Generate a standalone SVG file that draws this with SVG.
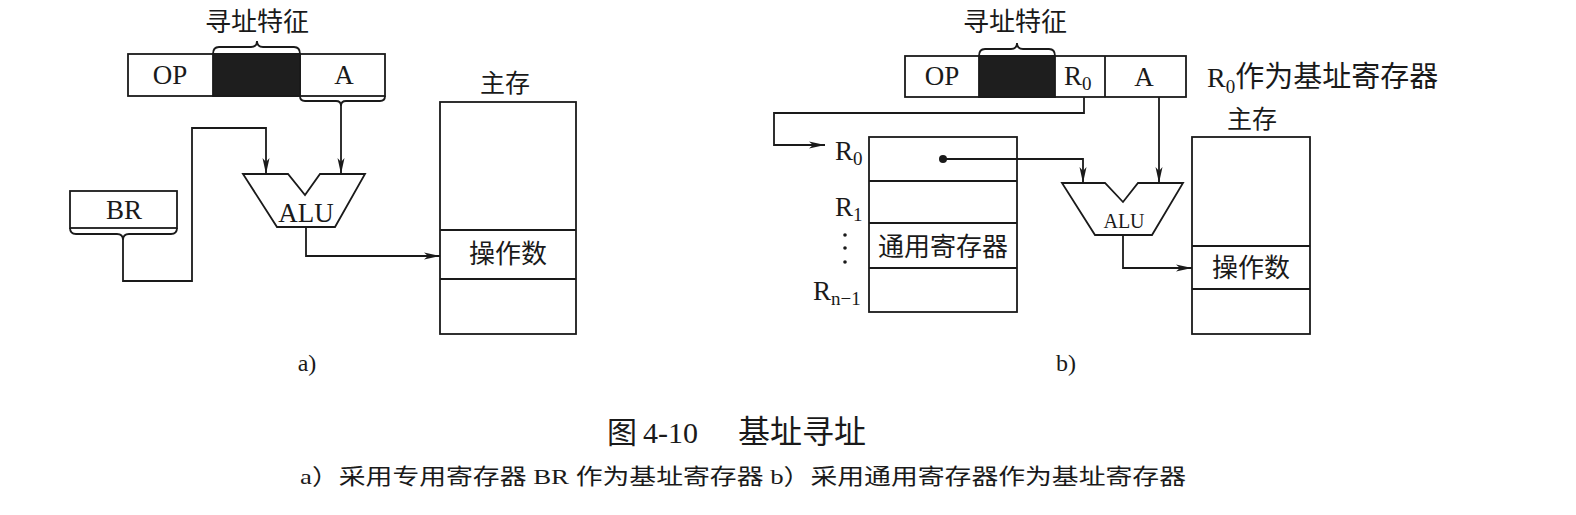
<svg xmlns="http://www.w3.org/2000/svg" width="1576" height="515" viewBox="0 0 1576 515">
<style>
.ln{fill:none;stroke:#1a1a1a;stroke-width:1.8}
.bx{fill:#fff;stroke:#1a1a1a;stroke-width:1.8}
.blk{fill:#1e1e1e;stroke:#1a1a1a;stroke-width:1.8}
.t{font-family:"Liberation Serif","Noto Sans CJK SC",serif;fill:#1a1a1a}
.c{text-anchor:middle}
.cj{font-family:"Noto Sans CJK SC","Liberation Serif",sans-serif;fill:#1a1a1a}
</style>
<defs>
<marker id="ar" markerUnits="userSpaceOnUse" markerWidth="18" markerHeight="10" refX="16" refY="4" orient="auto">
<path d="M0,0.5 L16,4 L0,7.5 L4,4 z" fill="#1a1a1a"/>
</marker>
</defs>
<rect width="1576" height="515" fill="#fff"/>

<!-- ===== (a) ===== -->
<g id="a-instr">
<rect class="bx" x="128" y="54" width="257" height="42"/>
<rect class="blk" x="213" y="54" width="87" height="42"/>
<line class="ln" x1="300" y1="54" x2="300" y2="96"/>
<text class="t c" x="170" y="84" font-size="27">OP</text>
<text class="t c" x="344" y="84" font-size="27">A</text>
</g>
<g id="a-feature">
<path class="ln" d="M213,54 Q213,47 219,47 L251,47 Q257,47 257,41 Q257,47 263,47 L294,47 Q300,47 300,54"/>
<text class="cj c" x="257" y="31" font-size="26">寻址特征</text>
</g>
<g id="a-br">
<rect class="bx" x="70" y="191" width="107" height="37"/>
<text class="t c" x="124" y="219" font-size="27">BR</text>
</g>
<g id="a-alu">
<polygon class="bx" points="243,174 288,174 305,195 320,174 365,174 335,227 277,227"/>
<text class="t c" x="306" y="222" font-size="27">ALU</text>
</g>
<g id="a-mem">
<text class="cj c" x="505" y="92" font-size="25">主存</text>
<rect class="bx" x="440" y="102" width="136" height="232"/>
<line class="ln" x1="440" y1="230" x2="576" y2="230"/>
<line class="ln" x1="440" y1="279" x2="576" y2="279"/>
<text class="cj c" x="508" y="263" font-size="26">操作数</text>
</g>
<g id="a-label"><text class="t c" x="307" y="371" font-size="24">a)</text></g>

<!-- ===== (b) ===== -->
<g id="b-instr">
<rect class="bx" x="905" y="56" width="281" height="41"/>
<rect class="blk" x="979" y="56" width="76" height="41"/>
<line class="ln" x1="1105" y1="56" x2="1105" y2="97"/>
<text class="t c" x="942" y="85" font-size="27">OP</text>
<text class="t" x="1064" y="85" font-size="27">R<tspan font-size="19" dy="5">0</tspan></text>
<text class="t c" x="1144" y="86" font-size="27">A</text>
</g>
<g id="b-feature">
<path class="ln" d="M979,56 Q979,49 985,49 L1011,49 Q1017,49 1017,43 Q1017,49 1023,49 L1049,49 Q1055,49 1055,56"/>
<text class="cj c" x="1015" y="31" font-size="26">寻址特征</text>
</g>
<g id="b-note">
<text class="t" x="1207" y="87" font-size="28">R<tspan font-size="19" dy="6">0</tspan><tspan dy="-6" font-size="29" font-family="Noto Sans CJK SC, sans-serif">作为基址寄存器</tspan></text>
</g>
<g id="b-regs">
<rect class="bx" x="869" y="137" width="148" height="175"/>
<line class="ln" x1="869" y1="181" x2="1017" y2="181"/>
<line class="ln" x1="869" y1="223" x2="1017" y2="223"/>
<line class="ln" x1="869" y1="268" x2="1017" y2="268"/>
<text class="cj c" x="943" y="256" font-size="26">通用寄存器</text>
<circle cx="943" cy="159" r="4" fill="#1a1a1a"/>
<text class="t" x="835" y="160" font-size="27">R<tspan font-size="19" dy="5">0</tspan></text>
<text class="t" x="835" y="216" font-size="27">R<tspan font-size="19" dy="5">1</tspan></text>
<circle cx="845" cy="235" r="1.8" fill="#1a1a1a"/>
<circle cx="845" cy="248" r="1.8" fill="#1a1a1a"/>
<circle cx="845" cy="262" r="1.8" fill="#1a1a1a"/>
<text class="t" x="813" y="300" font-size="27">R<tspan font-size="19" dy="5">n−1</tspan></text>
</g>
<g id="b-alu">
<polygon class="bx" points="1062,183 1105,183 1123,202 1138,183 1183,183 1152,235 1095,235"/>
<text class="t c" x="1124" y="228" font-size="20">ALU</text>
</g>
<g id="b-mem">
<text class="cj c" x="1252" y="128" font-size="25">主存</text>
<rect class="bx" x="1192" y="137" width="118" height="197"/>
<line class="ln" x1="1192" y1="246" x2="1310" y2="246"/>
<line class="ln" x1="1192" y1="289" x2="1310" y2="289"/>
<text class="cj c" x="1251" y="277" font-size="26">操作数</text>
</g>
<g id="b-label"><text class="t c" x="1066" y="371" font-size="24">b)</text></g>

<!-- ===== connectors ===== -->
<g id="connectors">
<path class="ln" d="M300,96 Q300,101 305,101 L336,101 Q341,101 341,106 Q341,101 346,101 L380,101 Q385,101 385,96"/>
<path class="ln" d="M341,106 L341,174" marker-end="url(#ar)"/>
<path class="ln" d="M70,228 Q70,234 76,234 L117,234 Q123,234 123,240 Q123,234 129,234 L171,234 Q177,234 177,228"/>
<path class="ln" d="M123,240 L123,281 L192,281 L192,128 L266,128 L266,174" marker-end="url(#ar)"/>
<path class="ln" d="M306,227 L306,256 L440,256" marker-end="url(#ar)"/>
<path class="ln" d="M1084,97 L1084,113 L774,113 L774,145 L825,145" marker-end="url(#ar)"/>
<path class="ln" d="M943,159 L1083,159 L1083,183" marker-end="url(#ar)"/>
<path class="ln" d="M1159,97 L1159,183" marker-end="url(#ar)"/>
<path class="ln" d="M1123,235 L1123,268 L1192,268" marker-end="url(#ar)"/>
</g>

<!-- ===== caption ===== -->
<g id="caption">
<text class="cj" x="607" y="443" font-size="30">图</text>
<text class="t" x="643" y="443" font-size="30">4-10</text>
<text class="cj" x="738" y="443" font-size="32">基址寻址</text>
<text class="t" x="300" y="484" font-size="22" textLength="886" lengthAdjust="spacingAndGlyphs">a）采用专用寄存器 BR 作为基址寄存器   b）采用通用寄存器作为基址寄存器</text>
</g>
</svg>
